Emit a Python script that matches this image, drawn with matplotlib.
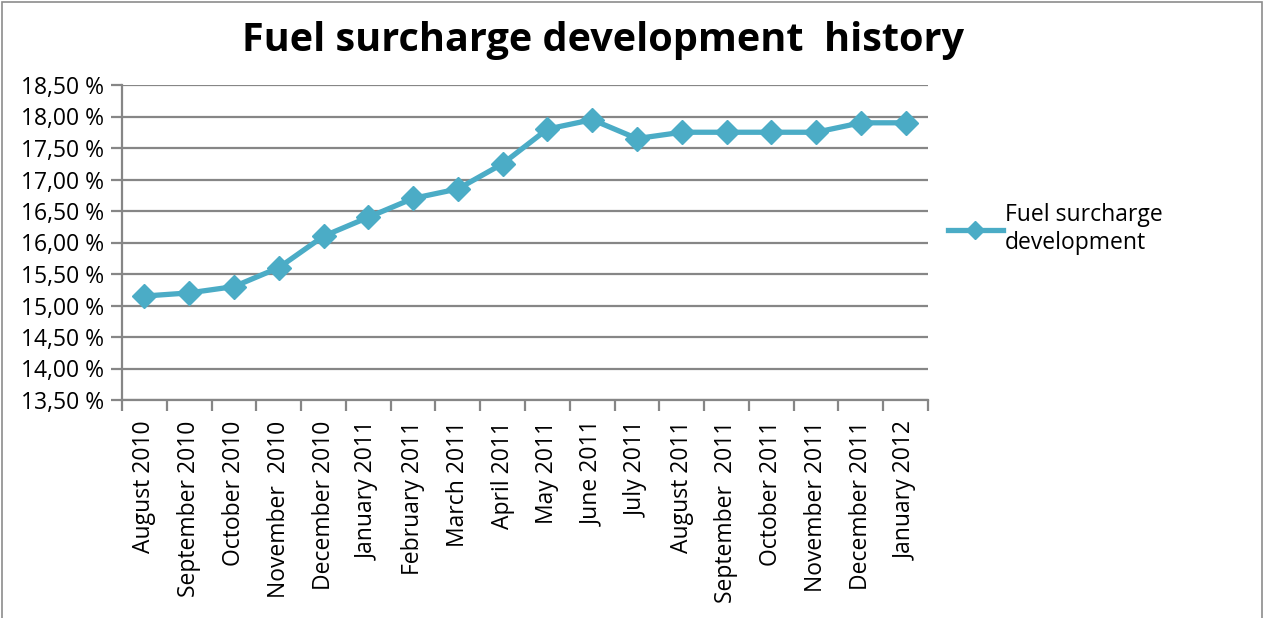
import matplotlib.pyplot as plt
from matplotlib.patches import Rectangle
from matplotlib.ticker import FuncFormatter, FixedLocator

# data
months = ["August 2010", "September 2010", "October 2010", "November  2010",
          "December 2010", "January 2011", "February 2011", "March 2011",
          "April 2011", "May 2011", "June 2011", "July 2011", "August 2011",
          "September  2011", "October 2011", "November 2011", "December 2011",
          "January 2012"]
surcharge = [15.15, 15.20, 15.30, 15.60, 16.10, 16.40, 16.70, 16.85, 17.25,
             17.80, 17.95, 17.65, 17.75, 17.75, 17.75, 17.75, 17.90, 17.90]
y_ticks = [13.5, 14.0, 14.5, 15.0, 15.5, 16.0, 16.5, 17.0, 17.5, 18.0, 18.5]

plt.rcParams['font.family'] = ['Open Sans', 'DejaVu Sans']

W, H = 1267, 618
fig = plt.figure(figsize=(W / 100, H / 100), dpi=100)

# outer chart border
fig.patches.append(Rectangle((2 / W, -0.01), (1262 - 2) / W, 1.01 - 2 / H,
                             transform=fig.transFigure, fill=False,
                             edgecolor="#8c8c8c", linewidth=1.2))

ax = fig.add_axes([122 / W, 1 - 400 / H, (928 - 122) / W, (400 - 85) / H])

grid_col = "#868686"
line_col = "#4BACC6"

x = list(range(len(months)))
ax.plot(x, surcharge, color=line_col, linewidth=3.8, marker="D",
        markersize=12.5, label="Fuel surcharge\ndevelopment", zorder=3)

ax.set_xlim(-0.5, len(months) - 0.5)
ax.set_ylim(13.5, 18.5)
ax.set_yticks(y_ticks)
ax.yaxis.set_major_formatter(FuncFormatter(lambda v, p: f"{v:.2f} %".replace(".", ",")))
ax.yaxis.grid(True, color=grid_col, linewidth=1.6)
ax.set_axisbelow(True)

ax.set_xticks(x)
ax.set_xticklabels(months, rotation=90, fontsize=16.5, va="top", ha="center")
ax.tick_params(axis="x", which="major", length=0, pad=15)
ax.xaxis.set_minor_locator(FixedLocator([i - 0.5 for i in range(len(months) + 1)]))
ax.tick_params(axis="x", which="minor", length=8, color=grid_col, width=1.6)
ax.tick_params(axis="y", length=8, color=grid_col, width=1.6, labelsize=16.5, pad=5)

for s in ["top", "right"]:
    ax.spines[s].set_visible(False)
for s in ["left", "bottom"]:
    ax.spines[s].set_color(grid_col)
    ax.spines[s].set_linewidth(1.6)

fig.text(603 / W, 1 - 40 / H, "Fuel surcharge development  history",
         ha="center", va="center", fontsize=28.5, fontweight="bold")

fig.legend(loc="center left", bbox_to_anchor=(927 / W, 1 - 229 / H),
           frameon=False, fontsize=16.5, handlelength=2.4, handletextpad=0.1,
           labelspacing=0.2, markerscale=0.75)

fig.savefig("out.png", dpi=100)
